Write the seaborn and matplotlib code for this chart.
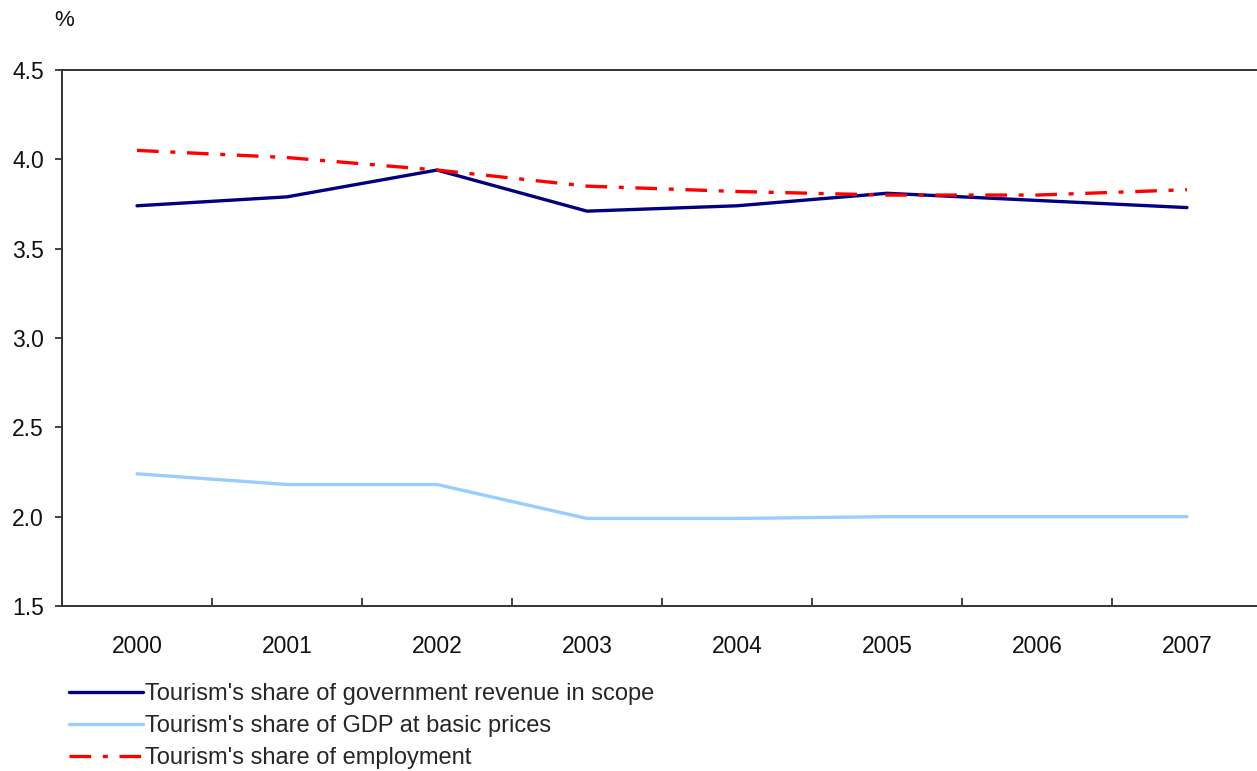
import matplotlib
matplotlib.use("Agg")
import matplotlib.pyplot as plt
import pandas as pd
import seaborn as sns
from matplotlib.ticker import FixedLocator, NullFormatter

years = ["2000", "2001", "2002", "2003", "2004", "2005", "2006", "2007"]
gov_revenue = [3.74, 3.79, 3.94, 3.71, 3.74, 3.81, 3.77, 3.73]
gdp_share = [2.24, 2.18, 2.18, 1.99, 1.99, 2.00, 2.00, 2.00]
employment = [4.05, 4.01, 3.94, 3.85, 3.82, 3.80, 3.80, 3.83]

series_names = [
    "Tourism's share of government revenue in scope",
    "Tourism's share of GDP at basic prices",
    "Tourism's share of employment",
]
colors = ["#000080", "#99CCFF", "#FF0000"]

rows = []
for name, vals in zip(series_names, [gov_revenue, gdp_share, employment]):
    for i, v in enumerate(vals):
        rows.append({"pos": i, "year": years[i], "value": v, "series": name})
df = pd.DataFrame(rows)

sns.set_style("white")
plt.rcParams["font.family"] = ["Liberation Sans", "DejaVu Sans"]

fig = plt.figure(figsize=(12.57, 7.71), dpi=100)
ax = fig.add_axes([62 / 1257, 1 - 606 / 771, 1200 / 1257, 536 / 771])

for name, col in zip(series_names, colors):
    sub = df[df["series"] == name]
    sns.lineplot(data=sub, x="pos", y="value", color=col, linewidth=2.4,
                 ax=ax, label=name, sort=False)
ax.lines[2].set_dashes([6.5, 3.5, 1.5, 3.5])

ax.set_xlim(-0.5, 7.5)
ax.set_ylim(1.5, 4.5)
yt = [1.5, 2.0, 2.5, 3.0, 3.5, 4.0, 4.5]
ax.set_yticks(yt)
ax.set_yticklabels([f"{v:.1f}" for v in yt])

# category axis: ticks between years, labels centred
ax.xaxis.set_major_locator(FixedLocator([i - 0.5 for i in range(9)]))
ax.xaxis.set_major_formatter(NullFormatter())
ax.set_xticks(list(range(8)), minor=True)
ax.set_xticklabels(years, minor=True)
ax.tick_params(axis="x", which="major", bottom=True, direction="in", length=6,
               width=1.2, color="#222222")
ax.tick_params(axis="x", which="minor", bottom=True, length=0, pad=21,
               labelsize=16.5, labelcolor="#111111")
ax.tick_params(axis="y", left=True, direction="out", length=5, width=1.2,
               color="#222222", pad=8, labelsize=16.5, labelcolor="#111111")

for s in ["left", "bottom", "top"]:
    ax.spines[s].set_color("#333333")
    ax.spines[s].set_linewidth(1.4)
ax.spines["right"].set_visible(False)

ax.set_xlabel("")
ax.set_ylabel("")
ax.grid(False)

fig.text(54 / 1257, 1 - 20 / 771, "%", fontsize=16, ha="left", va="center", color="#111111")

handles, labels = ax.get_legend_handles_labels()
ax.legend(handles, labels, loc="upper left", bbox_to_anchor=(60 / 1257, 1 - 674 / 771),
          bbox_transform=fig.transFigure, frameon=False, fontsize=17,
          handlelength=3.1, handletextpad=0.1, labelspacing=0.42, borderaxespad=0)

fig.savefig("out.png", dpi=100)
